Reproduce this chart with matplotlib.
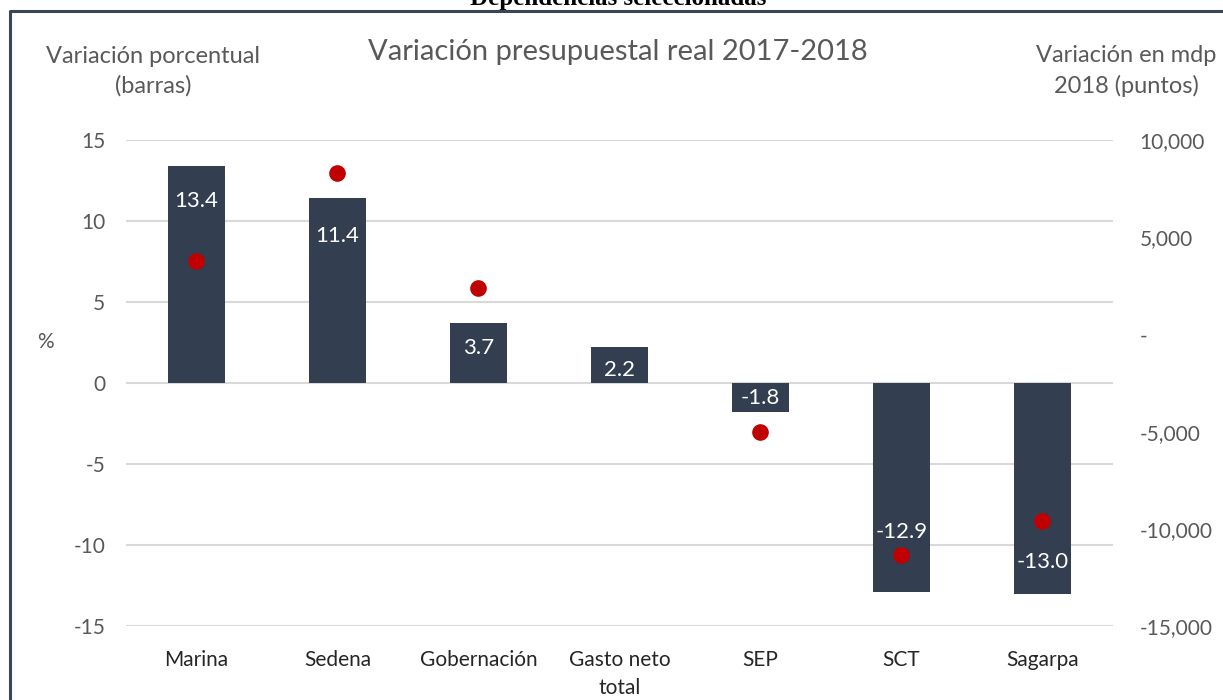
import matplotlib.pyplot as plt
from matplotlib.lines import Line2D
import numpy as np

plt.rcParams['font.family'] = ['Lato', 'DejaVu Sans']
plt.rcParams['axes.unicode_minus'] = False

# datos
dependencias = ['Marina', 'Sedena', 'Gobernación', 'Gasto neto\ntotal', 'SEP', 'SCT', 'Sagarpa']
var_pct = [13.4, 11.4, 3.7, 2.2, -1.8, -12.9, -13.0]
var_mdp = [3800, 8300, 2400, np.nan, -5000, -11350, -9600]

# desplazamiento de las etiquetas (en puntos, desde el extremo de la barra)
label_shift = [-25, -27, -18, -16, 10, 43, 23]

GRIS = '#595959'
BARRA = '#333F50'
ROJO = '#C00000'

fig = plt.figure(figsize=(12.23, 7.0), dpi=100)
ax = fig.add_axes([0.103, 0.1057, 0.807, 0.6943])
ax2 = ax.twinx()

x = np.arange(len(dependencias))
ax.bar(x, var_pct, width=0.4, color=BARRA, zorder=2)
ax.set_xlim(-0.5, len(dependencias) - 0.5)
ax.set_ylim(-15, 15)
ax.set_yticks(np.arange(-15, 16, 5))
ax.grid(axis='y', color='#D9D9D9', linewidth=1.5, zorder=0)
ax.set_axisbelow(True)
for s in ax.spines.values():
    s.set_visible(False)
ax.tick_params(axis='y', length=0, pad=15, labelsize=15, labelcolor=GRIS)
ax.set_xticks(x)
ax.set_xticklabels(dependencias, fontsize=15, color='#262626', linespacing=1.5, va='top')
ax.tick_params(axis='x', length=0, pad=17)

ax2.scatter(x, var_mdp, s=120, color=ROJO, zorder=3)
ax2.set_ylim(-15000, 10000)
ax2.set_yticks(np.arange(-15000, 10001, 5000))
ax2.set_yticklabels(['-' if t == 0 else f'{t:,.0f}' for t in np.arange(-15000, 10001, 5000)])
ax2.tick_params(axis='y', length=0, pad=19, labelsize=15, labelcolor=GRIS)
for s in ax2.spines.values():
    s.set_visible(False)

# etiquetas de las barras, por encima de los puntos
for xi, v, off in zip(x, var_pct, label_shift):
    ax2.annotate(f'{v:.1f}', (xi, v), xycoords=('data', ax.transData), xytext=(0, off),
                 textcoords='offset points', ha='center', va='center',
                 color='white', fontsize=16, zorder=4)

# textos
fig.text(618 / 1223, 1 - 52 / 700, 'Variación presupuestal real 2017-2018',
         ha='center', va='center', fontsize=21, color=GRIS)
fig.text(153 / 1223, 1 - 71 / 700, 'Variación porcentual\n(barras)',
         ha='center', va='center', fontsize=17, color=GRIS, linespacing=1.45)
fig.text(1126 / 1223, 1 - 71 / 700, 'Variación en mdp\n2018 (puntos)',
         ha='center', va='center', fontsize=17, color=GRIS, linespacing=1.45)
fig.text(45 / 1223, 1 - 342 / 700, '%', ha='center', va='center', fontsize=15, color=GRIS)
fig.text(618 / 1223, 1 - 5 / 700, 'Dependencias seleccionadas', ha='center', va='baseline',
         fontsize=18, fontweight='bold', family='Liberation Serif', color='black')

# marco
fig.add_artist(Line2D([10 / 1223, 10 / 1223, 1.0], [0.0, 1 - 11 / 700, 1 - 11 / 700],
                      transform=fig.transFigure, color='#3B4559', linewidth=2.2))

fig.savefig('out.png', dpi=100)
